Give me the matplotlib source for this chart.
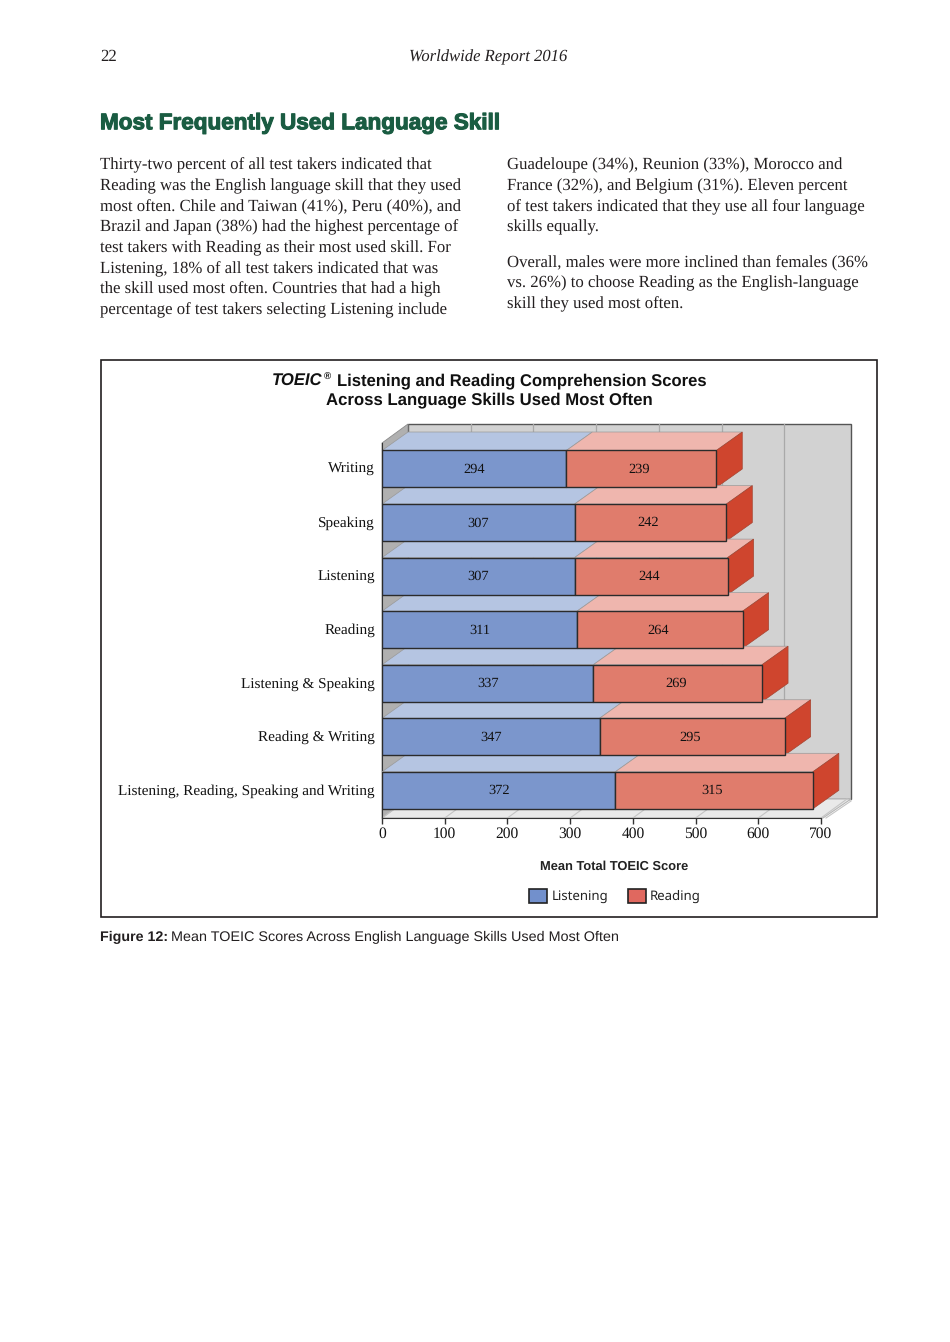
import matplotlib
matplotlib.use("Agg")
import matplotlib.pyplot as plt
import matplotlib.patheffects as pe
import matplotlib.transforms as mt
from matplotlib.patches import Polygon, Patch, Rectangle

plt.rcParams["text.hinting"] = "no_hinting"
plt.rcParams["text.hinting_factor"] = 8

SERIF = "Liberation Serif"
SANS = "Liberation Sans"

categories = ["Writing", "Speaking", "Listening", "Reading", "Listening & Speaking",
              "Reading & Writing", "Listening, Reading, Speaking and Writing"]
listening = [294, 307, 307, 311, 337, 347, 372]
reading = [239, 242, 244, 264, 269, 295, 315]
xticks = [0, 100, 200, 300, 400, 500, 600, 700]

left_col = ["Thirty-two percent of all test takers indicated that",
            "Reading was the English language skill that they used",
            "most often. Chile and Taiwan (41%), Peru (40%), and",
            "Brazil and Japan (38%) had the highest percentage of",
            "test takers with Reading as their most used skill. For",
            "Listening, 18% of all test takers indicated that was",
            "the skill used most often. Countries that had a high",
            "percentage of test takers selecting Listening include"]
right_col1 = ["Guadeloupe (34%), Reunion (33%), Morocco and",
              "France (32%), and Belgium (31%). Eleven percent",
              "of test takers indicated that they use all four language",
              "skills equally."]
right_col2 = ["Overall, males were more inclined than females (36%",
              "vs. 26%) to choose Reading as the English-language",
              "skill they used most often."]

W, H = 950, 1342
fig = plt.figure(figsize=(W / 100, H / 100), dpi=100, facecolor="white")

# page layer in pixel coordinates
pg = fig.add_axes([0, 0, 1, 1], zorder=0)
pg.set_xlim(0, W)
pg.set_ylim(H, 0)
pg.axis("off")

TXT = "#231f20"
BODY = 12.07
pg.text(100, 57, "22", family=SERIF, fontsize=BODY, color=TXT, va="center")
pg.text(488, 57, "Worldwide Report 2016", family=SERIF, style="italic", fontsize=12.0,
        color=TXT, va="center", ha="center")
pg.text(100, 123.6, "Most Frequently Used Language Skill", family=SANS, weight="bold",
        fontsize=16.2, color="#1a5c42", va="center",
        path_effects=[pe.withStroke(linewidth=0.8, foreground="#1a5c42")])


def para(x, y0, lines, step=20.7):
    for i, s in enumerate(lines):
        pg.text(x, y0 + i * step, s, family=SERIF, fontsize=BODY, color=TXT, va="center")


para(100, 165.4, left_col)
para(507, 165.4, right_col1)
para(507, 262.8, right_col2)

pg.add_patch(Rectangle((101, 360), 776, 557, facecolor="white", edgecolor="#231f20", lw=1.2))
pg.text(272, 381, "TOEIC", family=SANS, weight="bold", style="italic", fontsize=12.0,
        color="#111111", va="center")
pg.text(324, 377.5, "®", family=SANS, weight="bold", fontsize=7, color="#111111", va="center")
pg.text(337, 381, "Listening and Reading Comprehension Scores", family=SANS, weight="bold",
        fontsize=11.95, color="#111111", va="center")
pg.text(489, 400, "Across Language Skills Used Most Often", family=SANS, weight="bold",
        fontsize=12.03, color="#111111", va="center", ha="center")
pg.text(100, 937, "Figure 12:", family=SANS, weight="bold", fontsize=10.3, color=TXT, va="center")
pg.text(171, 937, "Mean TOEIC Scores Across English Language Skills Used Most Often",
        family=SANS, fontsize=10.4, color=TXT, va="center")

# 3-D looking walls, in pixel coordinates
WALL, FLOOR, SIDE = "#d2d2d2", "#e9e9e9", "#b0b0b0"
pg.add_patch(Polygon([(408, 424), (851, 424), (851, 799), (408, 799)], facecolor=WALL,
                     edgecolor="#555555", lw=1))
pg.add_patch(Polygon([(382, 443), (408, 424), (408, 799), (382, 818)], facecolor=SIDE,
                     edgecolor="#8a8a8a", lw=0.6))
pg.add_patch(Polygon([(382, 818), (408, 799), (851, 799), (823, 818)], facecolor=FLOOR,
                     edgecolor="#b5b5b5", lw=0.8))
pg.plot([826, 851], [818, 801], color="#c4c4c4", lw=0.8)

# chart layer, x in score units, y in category positions
AX_L, AX_R, AX_T, AX_B = 382, 821, 424, 818
ROW, Y0 = 53.55, 469
ax = fig.add_axes([AX_L / W, 1 - AX_B / H, (AX_R - AX_L) / W, (AX_B - AX_T) / H], zorder=1)
ax.patch.set_alpha(0)
ax.set_xlim(0, 700)
ax.set_ylim((AX_B - Y0) / ROW, (AX_T - Y0) / ROW)

px_x = 700 / (AX_R - AX_L)
dx = 26 * px_x          # bar depth, horizontal, in score units
dy = 18.5 / ROW         # bar depth, vertical, in category units
hh = 18.5 / ROW         # half bar height
lift = mt.ScaledTranslation(0, 1 / 100, fig.dpi_scale_trans)  # one pixel up

# wall gridlines and floor lines
for t in xticks[1:-1]:
    ax.plot([t + dx, t + dx], [(AX_T - Y0) / ROW, (799 - Y0) / ROW], color="#a9a9a9", lw=0.9,
            zorder=1, clip_on=False)
for t in xticks:
    ax.plot([t, t + dx], [(AX_B - Y0) / ROW, (799 - Y0) / ROW], color="#c4c4c4", lw=0.8,
            zorder=1, clip_on=False)

C = {"L": ("#7b96cc", "#b5c5e2", "#6f88bd"), "R": ("#e07c6c", "#efb6ae", "#cf452e")}
pos = list(range(len(categories)))

# tops and end faces go first, from back to front
for i in pos:
    a, b = listening[i], listening[i] + reading[i]
    top = i - hh
    for x0, x1, key in ((0, a, "L"), (a, b, "R")):
        ax.add_patch(Polygon([(x0, top), (x0 + dx, top - dy), (x1 + dx, top - dy), (x1, top)],
                             facecolor=C[key][1], edgecolor="#9a9a9a", lw=0.5, zorder=2 + i * 0.1,
                             clip_on=False))
    ax.add_patch(Polygon([(b, top), (b + dx, top - dy), (b + dx, i + hh - dy), (b, i + hh)],
                         facecolor=C["R"][2], edgecolor="#a5432f", lw=0.5, zorder=2 + i * 0.1,
                         clip_on=False))

ax.barh(pos, listening, height=2 * hh, color=C["L"][0], edgecolor="#2b2b2b", lw=1, zorder=4,
        label="Listening")
ax.barh(pos, reading, left=listening, height=2 * hh, color=C["R"][0], edgecolor="#2b2b2b", lw=1,
        zorder=4, label="Reading")

for i in pos:
    ax.text(listening[i] / 2, i, str(listening[i]), family=SERIF, fontsize=10.4, color="#111111",
            ha="center", va="center_baseline", zorder=5, transform=ax.transData + lift)
    ax.text(listening[i] + reading[i] / 2 - 3, i, str(reading[i]), family=SERIF, fontsize=10.4,
            color="#111111", ha="center", va="center_baseline", zorder=5,
            transform=ax.transData + lift)

ax.set_yticks(pos)
ax.set_yticklabels(categories, family=SERIF, fontsize=11.0, color="#111111")
ax.tick_params(axis="y", length=0, pad=5)
for lab in ax.get_yticklabels():
    lab.set_transform(lab.get_transform() + lift)
ax.set_xticks(xticks)
ax.set_xticklabels([str(t) for t in xticks], family=SERIF, fontsize=11.2, color="#111111")
ax.tick_params(axis="x", length=4, width=1, color="#333333", pad=2)
for s in ("top", "right"):
    ax.spines[s].set_visible(False)
ax.spines["bottom"].set_color("#333333")
ax.spines["left"].set_color("#333333")
ax.spines["left"].set_bounds((AX_B - Y0) / ROW, (443 - Y0) / ROW)

pg.text(614, 866.5, "Mean Total TOEIC Score", family=SANS, weight="bold", fontsize=9.3,
        color="#222222", va="center", ha="center")

handles = [Patch(facecolor="#7290cc", edgecolor="#222222", lw=1.2, label="Listening"),
           Patch(facecolor="#e0685f", edgecolor="#222222", lw=1.2, label="Reading")]
ax.legend(handles=handles, loc="center", bbox_to_anchor=((615 - AX_L) / (AX_R - AX_L), (AX_B - 896) / (AX_B - AX_T)),
          ncol=2, frameon=False, prop={"family": "Noto Sans", "size": 9.5}, handlelength=1.35,
          handleheight=1.25, handletextpad=0.32, columnspacing=1.5, borderpad=0, labelcolor="#222222")

fig.savefig("out.png", dpi=100, facecolor="white")
